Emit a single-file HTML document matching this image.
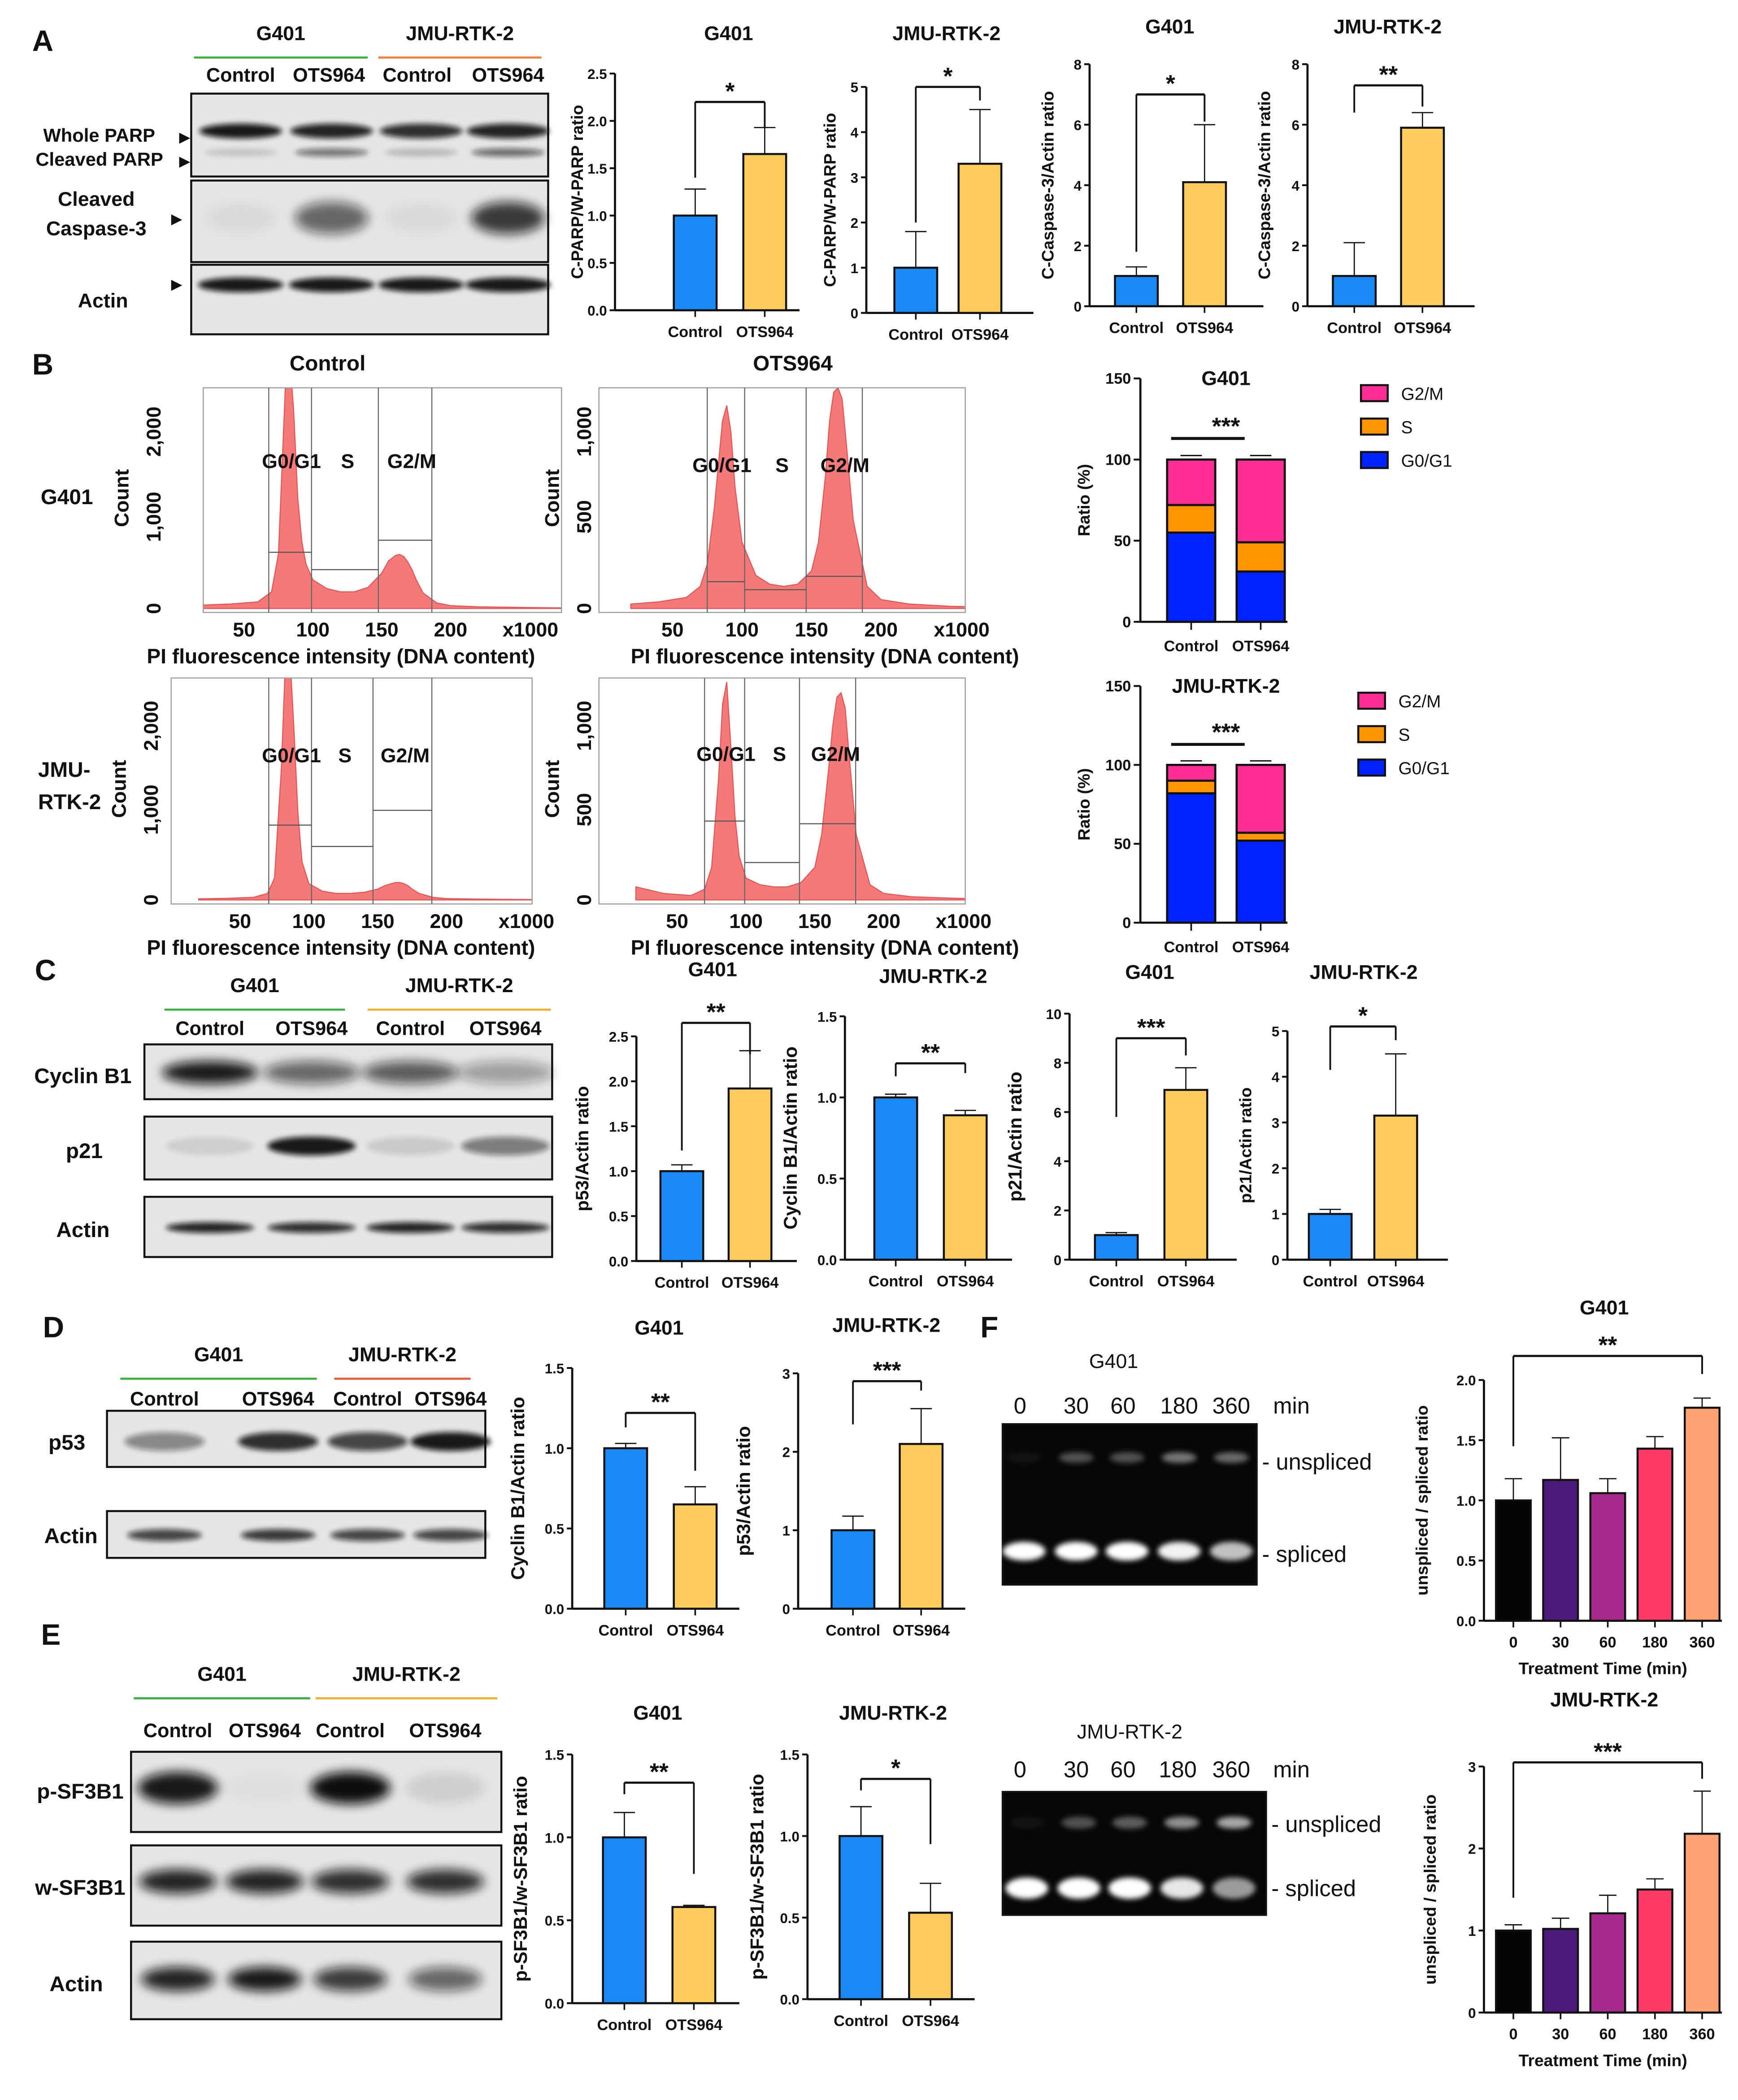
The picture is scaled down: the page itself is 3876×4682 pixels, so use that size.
<!DOCTYPE html>
<html><head><meta charset="utf-8"><title>Figure</title>
<style>html,body{margin:0;padding:0;background:#fff}svg{display:block}text{font-family:"Liberation Sans",Arial,sans-serif}</style>
</head><body>
<svg id="fig" xmlns="http://www.w3.org/2000/svg" width="3876" height="4682" viewBox="0 0 1300 1570.4">
<defs>
<filter id="blur2" x="-50%" y="-50%" width="200%" height="200%"><feGaussianBlur stdDeviation="2"/></filter>
<filter id="blur4" x="-50%" y="-50%" width="200%" height="200%"><feGaussianBlur stdDeviation="4"/></filter>
</defs>
<rect x="0" y="0" width="1300" height="1571" fill="#fff"/>
</svg>
<script>
// ---------- chart data ----------
const barCats = ["Control","OTS964"];
const valsA1 = [1.0,1.65], errA1 = [0.28,0.28], ticksA1 = [0,0.5,1,1.5,2,2.5], tlA1 = ["0.0","0.5","1.0","1.5","2.0","2.5"];
const valsA2 = [1.0,3.3], errA2 = [0.8,1.2], ticksA2 = [0,1,2,3,4,5], tlA2 = ["0","1","2","3","4","5"];
const valsA3 = [1.0,4.1], errA3 = [0.3,1.9], ticksA3 = [0,2,4,6,8], tlA3 = ["0","2","4","6","8"];
const valsA4 = [1.0,5.9], errA4 = [1.1,0.5], ticksA4 = [0,2,4,6,8], tlA4 = ["0","2","4","6","8"];
const valsC1 = [1.0,1.92], errC1 = [0.07,0.42], ticksC1 = [0,0.5,1,1.5,2,2.5], tlC1 = ["0.0","0.5","1.0","1.5","2.0","2.5"];
const valsC2 = [1.0,0.89], errC2 = [0.02,0.03], ticksC2 = [0,0.5,1,1.5], tlC2 = ["0.0","0.5","1.0","1.5"];
const valsC3 = [1.0,6.9], errC3 = [0.1,0.9], ticksC3 = [0,2,4,6,8,10], tlC3 = ["0","2","4","6","8","10"];
const valsC4 = [1.0,3.15], errC4 = [0.1,1.35], ticksC4 = [0,1,2,3,4,5], tlC4 = ["0","1","2","3","4","5"];
const valsD1 = [1.0,0.65], errD1 = [0.03,0.11], ticksD1 = [0,0.5,1,1.5], tlD1 = ["0.0","0.5","1.0","1.5"];
const valsD2 = [1.0,2.1], errD2 = [0.18,0.45], ticksD2 = [0,1,2,3], tlD2 = ["0","1","2","3"];
const valsE1 = [1.0,0.58], errE1 = [0.15,0.01], ticksE1 = [0,0.5,1,1.5], tlE1 = ["0.0","0.5","1.0","1.5"];
const valsE2 = [1.0,0.53], errE2 = [0.18,0.18], ticksE2 = [0,0.5,1,1.5], tlE2 = ["0.0","0.5","1.0","1.5"];
const timeCats = ["0","30","60","180","360"];
const valsF1 = [1.0,1.17,1.06,1.43,1.77], errF1 = [0.18,0.35,0.12,0.1,0.08], ticksF1 = [0,0.5,1,1.5,2], tlF1 = ["0.0","0.5","1.0","1.5","2.0"];
const valsF2 = [1.0,1.02,1.21,1.5,2.18], errF2 = [0.07,0.13,0.22,0.13,0.52], ticksF2 = [0,1,2,3], tlF2 = ["0","1","2","3"];
const stackCats = ["Control","OTS964"];
const g401G0 = [55,31], g401S = [17,18], g401G2 = [28,51];
const jmuG0 = [82,52], jmuS = [8,5], jmuG2 = [10,43];
const stackTicks = [0,50,100,150], stackTl = ["0","50","100","150"];
const flowBins = [20,40,60,70,75,80,83,86,89,92,95,100,110,120,130,140,150,155,160,163,166,169,172,175,180,190,200,220,250,280];
const flowG401Ctrl = [30,40,60,150,500,2000,2300,1800,1000,600,400,260,180,150,150,190,320,430,480,490,470,420,350,260,140,50,25,15,10,5];
const flowG401Ots = [20,30,50,100,200,450,650,850,920,800,550,300,150,110,100,110,170,300,600,850,980,1000,950,750,400,100,40,20,10,5];
const flowJmuCtrl = [10,15,25,60,200,1200,2200,2300,1600,800,350,150,80,60,60,70,100,130,150,160,160,150,130,100,60,25,12,8,5,3];
const flowJmuOts = [60,30,20,50,150,550,900,1000,700,380,200,100,70,60,60,80,150,300,600,800,930,950,880,650,300,70,30,15,8,4];

// ---------- helpers ----------
const svg = document.getElementById('fig');
const NS = 'http://www.w3.org/2000/svg';
function mk(tag, attrs, parent){
  const el = document.createElementNS(NS, tag);
  for (const k in attrs) el.setAttribute(k, attrs[k]);
  (parent || svg).appendChild(el);
  return el;
}
function T(x, y, s, size, name, o, parent){
  o = o || {};
  const t = mk('text', {x:x, y:y, 'font-size':size, 'text-anchor':o.a || 'middle', 'font-weight':o.w || 'bold', fill:o.f || '#111'}, parent);
  if (o.rot) t.setAttribute('transform', 'rotate(' + o.rot + ' ' + x + ' ' + y + ')');
  t.textContent = s;
  
  
  return t;
}
function L(x1, y1, x2, y2, w, name, col, parent){
  const l = mk('line', {x1:x1, y1:y1, x2:x2, y2:y2, stroke:col || '#111', 'stroke-width':w}, parent);
  
  
  return l;
}
function G(name){
  const g = mk('g', {});
  
  
  return g;
}

// ---------- bar chart ----------
function barChart(c, cats, vals, errs, ticks, tls, colors){
  const g = G(c.name);
  const ys = v => c.yBot - v / c.max * (c.yBot - c.yTop);
  L(c.ax, c.yTop, c.ax, c.yBot, 1.6, 'y-axis', null, g);
  L(c.ax, c.yBot, c.ax + c.xLen, c.yBot, 1.6, 'x-axis', null, g);
  ticks.forEach((t, i) => {
    L(c.ax - 4, ys(t), c.ax, ys(t), 1.4, 'y-tick', null, g);
    T(c.ax - 6, ys(t) + 4, tls[i], c.fs || 10.5, 'y-tick-label', {a:'end'}, g);
  });
  vals.forEach((v, i) => {
    const cx = c.b0 + i * c.bs;
    const r = mk('rect', {x:cx - c.bw / 2, y:ys(v), width:c.bw, height:c.yBot - ys(v), fill:colors[i], stroke:'#111', 'stroke-width':1.5}, g);
    
    
    const e = errs[i];
    L(cx, ys(v), cx, ys(v + e), 0.9, 'error-bar', null, g);
    L(cx - c.bw / 4, ys(v + e), cx + c.bw / 4, ys(v + e), 0.9, 'error-cap', null, g);
    L(cx, c.yBot, cx, c.yBot + 5, 1.2, 'x-tick', null, g);
    T(cx, c.yBot + 20, cats[i], c.xfs || 11.5, 'x-tick-label', {}, g);
  });
  T(c.tx, c.ty, c.title, 15, 'chart-title', {}, g);
  const ym = (c.yTop + c.yBot) / 2;
  T(c.ytx, ym, c.ytitle, c.ytfs || 12.5, 'y-axis-title', {rot:-90}, g);
  if (c.xtitle) T(c.ax + c.xLen / 2, c.yBot + 40, c.xtitle, 12.5, 'x-axis-title', {}, g);
  if (c.sig) {
    const x1 = c.b0, x2 = c.b0 + c.sig.to * c.bs;
    L(x1, ys(c.sig.lvl), x2, ys(c.sig.lvl), 1.6, 'significance-bracket', null, g);
    L(x1, ys(c.sig.lvl), x1, ys(c.sig.l), 1.3, 'bracket-leg', null, g);
    L(x2, ys(c.sig.lvl), x2, ys(c.sig.r), 1.3, 'bracket-leg', null, g);
    T((x1 + x2) / 2, ys(c.sig.lvl) - 2, c.sig.s, 18, 'significance-stars', {}, g);
  }
}
const BC = ['#1a88f5', '#ffcc5c'];
const FC = ['#050505', '#4b1a7a', '#a52a8c', '#ff3a66', '#ffa273'];

barChart({name:'chart-a-g401-cparp', ax:460, yTop:55, yBot:232, max:2.5, xLen:138, b0:520, bs:52, bw:32, title:'G401', tx:545, ty:30, ytitle:'C-PARP/W-PARP ratio', ytx:436, sig:{lvl:2.2, l:1.4, r:1.93, to:1, s:'*'}}, barCats, valsA1, errA1, ticksA1, tlA1, BC);
barChart({name:'chart-a-jmu-cparp', ax:648, yTop:65, yBot:234, max:5, xLen:125, b0:685, bs:48, bw:32, title:'JMU-RTK-2', tx:708, ty:30, ytitle:'C-PARP/W-PARP ratio', ytx:625, sig:{lvl:5.0, l:2.0, r:4.7, to:1, s:'*'}}, barCats, valsA2, errA2, ticksA2, tlA2, BC);
barChart({name:'chart-a-g401-caspase', ax:815, yTop:48, yBot:229, max:8, xLen:130, b0:850, bs:51, bw:32, title:'G401', tx:875, ty:25, ytitle:'C-Caspase-3/Actin ratio', ytx:788, sig:{lvl:7.0, l:1.8, r:6.1, to:1, s:'*'}}, barCats, valsA3, errA3, ticksA3, tlA3, BC);
barChart({name:'chart-a-jmu-caspase', ax:978, yTop:48, yBot:229, max:8, xLen:125, b0:1013, bs:51, bw:32, title:'JMU-RTK-2', tx:1038, ty:25, ytitle:'C-Caspase-3/Actin ratio', ytx:950, sig:{lvl:7.3, l:6.4, r:6.6, to:1, s:'**'}}, barCats, valsA4, errA4, ticksA4, tlA4, BC);

barChart({name:'chart-c-g401-p53', ax:476, yTop:775, yBot:943, max:2.5, xLen:120, b0:510, bs:51, bw:32, title:'G401', tx:533, ty:730, ytitle:'p53/Actin ratio', ytx:440, ytfs:13.5, sig:{lvl:2.65, l:1.23, r:2.3, to:1, s:'**'}}, barCats, valsC1, errC1, ticksC1, tlC1, BC);
barChart({name:'chart-c-jmu-cyclinb1', ax:632, yTop:760, yBot:942, max:1.5, xLen:125, b0:670, bs:52, bw:32, title:'JMU-RTK-2', tx:698, ty:735, ytitle:'Cyclin B1/Actin ratio', ytx:596, ytfs:14, sig:{lvl:1.21, l:1.13, r:1.15, to:1, s:'**'}}, barCats, valsC2, errC2, ticksC2, tlC2, BC);
barChart({name:'chart-c-g401-p21', ax:800, yTop:758, yBot:942, max:10, xLen:125, b0:835, bs:52, bw:32, title:'G401', tx:860, ty:732, ytitle:'p21/Actin ratio', ytx:764, ytfs:14, sig:{lvl:9.0, l:5.8, r:8.3, to:1, s:'***'}}, barCats, valsC3, errC3, ticksC3, tlC3, BC);
barChart({name:'chart-c-jmu-p21', ax:963, yTop:771, yBot:942, max:5, xLen:120, b0:995, bs:49, bw:32, title:'JMU-RTK-2', tx:1020, ty:732, ytitle:'p21/Actin ratio', ytx:936, sig:{lvl:5.1, l:4.15, r:4.8, to:1, s:'*'}}, barCats, valsC4, errC4, ticksC4, tlC4, BC);

barChart({name:'chart-d-g401-cyclinb1', ax:428, yTop:1023, yBot:1203, max:1.5, xLen:125, b0:468, bs:52, bw:32, title:'G401', tx:493, ty:998, ytitle:'Cyclin B1/Actin ratio', ytx:392, ytfs:14, sig:{lvl:1.22, l:1.13, r:0.86, to:1, s:'**'}}, barCats, valsD1, errD1, ticksD1, tlD1, BC);
barChart({name:'chart-d-jmu-p53', ax:597, yTop:1027, yBot:1203, max:3, xLen:125, b0:638, bs:51, bw:32, title:'JMU-RTK-2', tx:663, ty:996, ytitle:'p53/Actin ratio', ytx:561, ytfs:14, sig:{lvl:2.9, l:2.35, r:2.78, to:1, s:'***'}}, barCats, valsD2, errD2, ticksD2, tlD2, BC);

barChart({name:'chart-e-g401-psf3b1', ax:428, yTop:1312, yBot:1498, max:1.5, xLen:125, b0:467, bs:52, bw:32, title:'G401', tx:492, ty:1286, ytitle:'p-SF3B1/w-SF3B1 ratio', ytx:394, ytfs:14, sig:{lvl:1.33, l:1.26, r:0.78, to:1, s:'**'}}, barCats, valsE1, errE1, ticksE1, tlE1, BC);
barChart({name:'chart-e-jmu-psf3b1', ax:604, yTop:1312, yBot:1495, max:1.5, xLen:125, b0:644, bs:52, bw:32, title:'JMU-RTK-2', tx:668, ty:1286, ytitle:'p-SF3B1/w-SF3B1 ratio', ytx:571, ytfs:14, sig:{lvl:1.35, l:1.28, r:0.95, to:1, s:'*'}}, barCats, valsE2, errE2, ticksE2, tlE2, BC);

barChart({name:'chart-f-g401-ratio', ax:1110, yTop:1032, yBot:1212, max:2, xLen:178, b0:1132, bs:35.3, bw:26, title:'G401', tx:1200, ty:983, ytitle:'unspliced / spliced ratio', ytx:1068, xtitle:'Treatment Time (min)', sig:{lvl:2.2, l:1.45, r:2.05, to:4, s:'**'}}, timeCats, valsF1, errF1, ticksF1, tlF1, FC);
barChart({name:'chart-f-jmu-ratio', ax:1110, yTop:1321, yBot:1505, max:3, xLen:178, b0:1132, bs:35.3, bw:26, title:'JMU-RTK-2', tx:1200, ty:1276, ytitle:'unspliced / spliced ratio', ytx:1074, xtitle:'Treatment Time (min)', sig:{lvl:3.05, l:1.4, r:2.85, to:4, s:'***'}}, timeCats, valsF2, errF2, ticksF2, tlF2, FC);

// ---------- stacked bar ----------
const SC = ['#0022ff', '#ff9500', '#ff2d95'];
function stackChart(c, cats, g0, s, g2, ticks, tls){
  const g = G(c.name);
  const ys = v => c.yBot - v / 150 * (c.yBot - c.yTop);
  L(c.ax, c.yTop, c.ax, c.yBot, 1.6, 'y-axis', null, g);
  L(c.ax, c.yBot, c.ax + 110, c.yBot, 1.6, 'x-axis', null, g);
  ticks.forEach((t, i) => {
    L(c.ax - 5, ys(t), c.ax, ys(t), 1.4, 'y-tick', null, g);
    T(c.ax - 7, ys(t) + 4, tls[i], 11.5, 'y-tick-label', {a:'end'}, g);
  });
  cats.forEach((cat, i) => {
    const cx = c.b0 + i * 52;
    let base = 0;
    [[g0[i], 0, 'segment-g0g1'], [s[i], 1, 'segment-s'], [g2[i], 2, 'segment-g2m']].forEach(seg => {
      const r = mk('rect', {x:cx - 18, y:ys(base + seg[0]), width:36, height:ys(base) - ys(base + seg[0]), fill:SC[seg[1]], stroke:'#111', 'stroke-width':1.6}, g);
      
      
      base += seg[0];
      L(cx - 8, ys(base) - 3, cx + 8, ys(base) - 3, 1, 'error-cap', null, g);
    });
    L(cx, c.yBot, cx, c.yBot + 6, 1.2, 'x-tick', null, g);
    T(cx, c.yBot + 22, cat, 11.5, 'x-tick-label', {}, g);
  });
  T(c.b0 + 26, c.yTop + 5, c.title, 15, 'chart-title', {}, g);
  T(c.ax - 38, (c.yTop + c.yBot) / 2, 'Ratio (%)', 12.5, 'y-axis-title', {rot:-90}, g);
  L(c.b0 - 15, ys(113), c.b0 + 40, ys(113), 2.2, 'significance-line', null, g);
  T(c.b0 + 26, ys(113) - 3, '***', 18, 'significance-stars', {}, g);
  [['G2/M', 2], ['S', 1], ['G0/G1', 0]].forEach((e, i) => {
    const r = mk('rect', {x:c.lx, y:c.ly + i * 25 - 6, width:20, height:12, fill:SC[e[1]], stroke:'#111', 'stroke-width':1.5}, g);
    
    
    T(c.lx + 30, c.ly + i * 25 + 5, e[0], 13, 'legend-label', {a:'start', w:'normal'}, g);
  });
}
stackChart({name:'chart-b-g401-cellcycle', ax:853, yTop:283, yBot:465, b0:891, lx:1018, ly:294, title:'G401'}, stackCats, g401G0, g401S, g401G2, stackTicks, stackTl);
stackChart({name:'chart-b-jmu-cellcycle', ax:853, yTop:513, yBot:690, b0:891, lx:1016, ly:524, title:'JMU-RTK-2'}, stackCats, jmuG0, jmuS, jmuG2, stackTicks, stackTl);

// ---------- flow histograms ----------
function flow(c, bins, counts){
  const g = G(c.name);
  const px = v => c.x0 + c.k * v;
  const py = n => c.y0 - n * c.ky;
  const clipId = 'clip-' + c.name;
  const cp = mk('clipPath', {id:clipId}, g);
  mk('rect', {x:c.bx, y:c.by, width:c.bw, height:c.bh}, cp);
  let d = 'M' + px(bins[0]) + ' ' + c.y0;
  bins.forEach((b, i) => { d += ' L' + px(b).toFixed(1) + ' ' + py(counts[i]).toFixed(1); });
  d += ' L' + px(bins[bins.length - 1]) + ' ' + c.y0 + ' Z';
  const p = mk('path', {d:d, fill:'#f47a7a', stroke:'#e55555', 'stroke-width':0.8, 'clip-path':'url(#' + clipId + ')'}, g);
  
  
  const box = mk('rect', {x:c.bx, y:c.by, width:c.bw, height:c.bh, fill:'none', stroke:'#999', 'stroke-width':0.8}, g);
  
  
  c.gx.forEach(x => L(x, c.by, x, c.by + c.bh, 0.8, 'gate-line', '#666', g));
  L(c.gx[0], c.hy[0], c.gx[1], c.hy[0], 0.8, 'gate-g0g1', '#555', g);
  L(c.gx[1], c.hy[1], c.gx[2], c.hy[1], 0.8, 'gate-s', '#555', g);
  L(c.gx[2], c.hy[2], c.gx[3], c.hy[2], 0.8, 'gate-g2m', '#555', g);
  T(c.lab[0], c.laby, 'G0/G1', 15, 'gate-label-g0g1', {}, g);
  T(c.lab[1], c.laby, 'S', 15, 'gate-label-s', {}, g);
  T(c.lab[2], c.laby, 'G2/M', 15, 'gate-label-g2m', {}, g);
  [50, 100, 150, 200].forEach(v => T(px(v), c.y0 + 21, String(v), 15, 'x-tick-label', {}, g));
  T(px(258), c.y0 + 21, 'x1000', 15, 'x-tick-label', {}, g);
  c.yt.forEach((t, i) => T(c.ylx, py(t) + (i === 0 ? 0 : 14), c.ytl[i], 15, 'y-tick-label', {rot:-90, a: i === c.yt.length - 1 ? 'end' : 'middle'}, g));
  T(c.ylx - 24, (c.by + c.y0) / 2, 'Count', 15, 'y-axis-title', {rot:-90}, g);
  T(c.xt, c.y0 + 41, 'PI fluorescence intensity (DNA content)', 15.5, 'x-axis-title', {}, g);
}
flow({name:'flow-g401-control', bx:152, by:290, bw:268, bh:168, x0:131, k:1.03, y0:455, ky:0.0825, gx:[201,233,283,323], hy:[413,426,404], lab:[218,260,308], laby:350, ylx:120, yt:[0,1000,2000], ytl:['0','1,000','2,000'], xt:255}, flowBins, flowG401Ctrl);
flow({name:'flow-g401-ots964', bx:448, by:290, bw:274, bh:168, x0:451, k:1.04, y0:455, ky:0.165, gx:[529,557,603,645], hy:[435,441,431], lab:[540,585,632], laby:353, ylx:442, yt:[0,500,1000], ytl:['0','500','1,000'], xt:617}, flowBins, flowG401Ots);
flow({name:'flow-jmu-control', bx:128, by:507, bw:270, bh:169, x0:128, k:1.03, y0:673, ky:0.0815, gx:[201,233,279,323], hy:[617,633,606], lab:[218,258,303], laby:570, ylx:118, yt:[0,1000,2000], ytl:['0','1,000','2,000'], xt:255}, flowBins, flowJmuCtrl);
flow({name:'flow-jmu-ots964', bx:448, by:507, bw:274, bh:169, x0:455, k:1.03, y0:673, ky:0.163, gx:[527,557,598,640], hy:[614,645,616], lab:[543,583,625], laby:569, ylx:442, yt:[0,500,1000], ytl:['0','500','1,000'], xt:617}, flowBins, flowJmuOts);

// ---------- blots ----------
function blot(name, x, y, w, h, lanes, bands, dark){
  const g = G(name);
  const bg = mk('rect', {x:x, y:y, width:w, height:h, fill: dark ? '#060606' : '#e6e6e6', stroke:'#111', 'stroke-width':1.5}, g);
  
  
  bands.forEach(b => lanes.forEach((lx, i) => {
    const e = mk('ellipse', {cx:lx, cy:b.cy, rx:b.w / 2, ry:b.h / 2, fill: dark ? '#fff' : '#111', 'fill-opacity':b.v[i], filter: b.h > 16 ? 'url(#blur4)' : 'url(#blur2)'}, g);
    
    
  }));
}
const lanesA = [180, 248, 315, 380];
blot('blot-parp', 143, 70, 267, 62, lanesA, [{cy:98, h:11, w:62, v:[.95,.9,.85,.9]}, {cy:114, h:6, w:55, v:[.15,.55,.2,.6]}]);
blot('blot-cleaved-caspase3', 143, 135, 267, 61, lanesA, [{cy:163, h:24, w:55, v:[.05,.6,.05,.8]}]);
blot('blot-actin-a', 143, 198, 267, 52, lanesA, [{cy:213, h:11, w:64, v:[.95,.95,.95,.95]}]);
const lanesC = [157, 233, 307, 378];
blot('blot-cyclinb1', 108, 781, 305, 41, lanesC, [{cy:802, h:17, w:72, v:[.95,.6,.65,.35]}]);
blot('blot-p21', 108, 835, 305, 47, lanesC, [{cy:857, h:14, w:66, v:[.1,.95,.12,.5]}]);
blot('blot-actin-c', 108, 895, 305, 45, lanesC, [{cy:918, h:8, w:66, v:[.9,.85,.9,.85]}]);
const lanesD = [123, 208, 275, 337];
blot('blot-p53', 80, 1055, 283, 42, lanesD, [{cy:1078, h:14, w:60, v:[.45,.85,.75,.95]}]);
blot('blot-actin-d', 80, 1130, 283, 35, lanesD, [{cy:1148, h:9, w:56, v:[.75,.8,.75,.75]}]);
const lanesE = [133, 198, 262, 333];
blot('blot-p-sf3b1', 98, 1310, 277, 60, lanesE, [{cy:1337, h:24, w:60, v:[.95,.03,1,.1]}]);
blot('blot-w-sf3b1', 98, 1380, 277, 60, lanesE, [{cy:1407, h:18, w:58, v:[.9,.9,.85,.85]}]);
blot('blot-actin-e', 98, 1452, 277, 58, lanesE, [{cy:1480, h:18, w:55, v:[.9,.95,.8,.6]}]);
blot('gel-g401', 750, 1065, 190, 120, [766,805,843,882,921], [{cy:1090, h:8, w:26, v:[.05,.3,.3,.45,.4]}, {cy:1160, h:14, w:32, v:[1,1,1,.95,.75]}], true);
blot('gel-jmu', 750, 1340, 197, 92, [768,807,845,884,923], [{cy:1363, h:9, w:26, v:[.05,.3,.35,.55,.65]}, {cy:1412, h:16, w:32, v:[1,1,1,.9,.6]}], true);

// ---------- static labels ----------
const lab = (x, y, s, sz, name, o) => T(x, y, s, sz, name, o);
lab(32, 38, 'A', 22, 'panel-label-a');
lab(32, 280, 'B', 22, 'panel-label-b');
lab(34, 733, 'C', 22, 'panel-label-c');
lab(40, 1000, 'D', 22, 'panel-label-d');
lab(38, 1230, 'E', 22, 'panel-label-e');
lab(740, 1000, 'F', 22, 'panel-label-f');

function header(x1, x2, x3, x4, y, c1, c2, sub, subY, fs){
  lab((x1 + x2) / 2, y, 'G401', fs || 15, 'group-label-g401');
  L(x1, y + 13, x2, y + 13, 1.6, 'group-line-g401', '#3cb043');
  lab((x3 + x4) / 2, y, 'JMU-RTK-2', fs || 15, 'group-label-jmu');
  L(x3, y + 13, x4, y + 13, 1.6, 'group-line-jmu', c2);
  ['Control', 'OTS964', 'Control', 'OTS964'].forEach((s, i) => lab(sub[i], subY, s, 14.5, 'lane-label'));
}
header(145, 275, 283, 405, 30, '#3cb043', '#f07f3c', [180, 246, 312, 380], 61, 15);
header(123, 258, 275, 412, 742, '#3cb043', '#f0b030', [157, 233, 307, 378], 774);
header(90, 237, 250, 352, 1018, '#3cb043', '#e0603c', [123, 208, 275, 337], 1051);
header(100, 232, 236, 372, 1257, '#3cb043', '#f0b030', [133, 198, 262, 333], 1299);

lab(116, 106, 'Whole PARP', 14, 'label-whole-parp', {a:'end'});
lab(122, 124, 'Cleaved PARP', 14, 'label-cleaved-parp', {a:'end'});
lab(138, 106, '▶', 10, 'arrow-whole-parp');
lab(138, 124, '▶', 10, 'arrow-cleaved-parp');
lab(72, 154, 'Cleaved', 15, 'label-cleaved');
lab(72, 176, 'Caspase-3', 15, 'label-caspase3');
lab(132, 167, '▶', 10, 'arrow-caspase3');
lab(77, 230, 'Actin', 15, 'label-actin-a');
lab(132, 216, '▶', 10, 'arrow-actin');
lab(245, 277, 'Control', 16, 'title-control');
lab(593, 277, 'OTS964', 16, 'title-ots964');
lab(50, 377, 'G401', 16, 'row-label-g401');
lab(48, 581, 'JMU-', 16, 'row-label-jmu-1');
lab(52, 605, 'RTK-2', 16, 'row-label-jmu-2');
lab(62, 810, 'Cyclin B1', 16, 'label-cyclinb1');
lab(63, 866, 'p21', 16, 'label-p21');
lab(62, 925, 'Actin', 16, 'label-actin-c');
lab(50, 1084, 'p53', 16, 'label-p53');
lab(53, 1154, 'Actin', 16, 'label-actin-d');
lab(60, 1345, 'p-SF3B1', 16, 'label-p-sf3b1');
lab(60, 1417, 'w-SF3B1', 16, 'label-w-sf3b1');
lab(57, 1489, 'Actin', 16, 'label-actin-e');

lab(833, 1023, 'G401', 15, 'gel-title-g401', {w:'normal'});
[[763, '0'], [805, '30'], [840, '60'], [882, '180'], [921, '360'], [966, 'min']].forEach(t => lab(t[0], 1057, t[1], 17, 'gel-lane-label', {w:'normal'}));
lab(944, 1099, '- unspliced', 17, 'gel-label-unspliced', {a:'start', w:'normal'});
lab(944, 1168, '- spliced', 17, 'gel-label-spliced', {a:'start', w:'normal'});
lab(845, 1300, 'JMU-RTK-2', 15, 'gel-title-jmu', {w:'normal'});
[[763, '0'], [805, '30'], [840, '60'], [881, '180'], [921, '360'], [966, 'min']].forEach(t => lab(t[0], 1329, t[1], 17, 'gel-lane-label', {w:'normal'}));
lab(951, 1370, '- unspliced', 17, 'gel-label-unspliced', {a:'start', w:'normal'});
lab(951, 1418, '- spliced', 17, 'gel-label-spliced', {a:'start', w:'normal'});
</script>
</body></html>
